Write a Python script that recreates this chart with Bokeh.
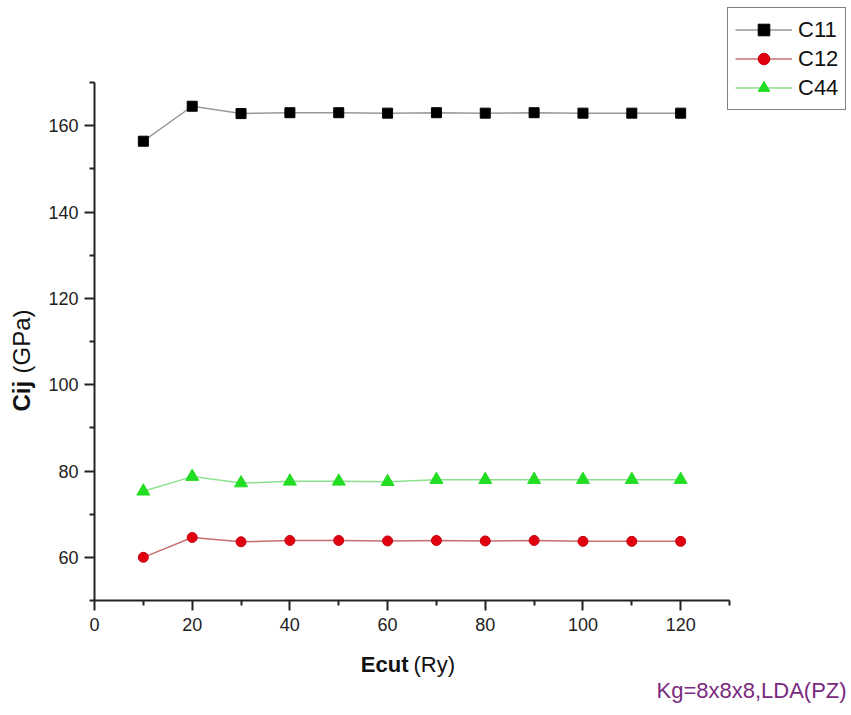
import math
from bokeh.plotting import figure
from bokeh.models import Range1d, FixedTicker, Label, Legend, LegendItem
from bokeh.embed import file_html
from bokeh.resources import INLINE

# ---- data ----
ecut = [10, 20, 30, 40, 50, 60, 70, 80, 90, 100, 110, 120]
c11 = [156.4, 164.5, 162.8, 163.0, 163.0, 162.9, 163.0, 162.9, 163.0, 162.9, 162.9, 162.9]
c12 = [60.0, 64.6, 63.6, 63.9, 63.9, 63.8, 63.9, 63.8, 63.9, 63.7, 63.7, 63.7]
c44 = [75.3, 78.7, 77.2, 77.6, 77.6, 77.5, 78.0, 78.0, 78.0, 78.0, 78.0, 78.0]
series_names = ["C11", "C12", "C44"]
x_major = [0, 20, 40, 60, 80, 100, 120]
x_minor = [10, 30, 50, 70, 90, 110, 130]
y_major = [60, 80, 100, 120, 140, 160]
y_minor = [50, 70, 90, 110, 130, 150, 170]
x_bounds = (0, 130)
y_bounds = (50, 170)
x_label_bold, x_label_rest = "Ecut", "(Ry)"
y_label_bold, y_label_rest = "Cij", "(GPa)"
note = "Kg=8x8x8,LDA(PZ)"

FONT = "Liberation Sans"
W, H = 851, 715
# axes box in page pixels
L, R, T, B = 94, 729, 82, 600
sx = (R - L) / (x_bounds[1] - x_bounds[0])
sy = (B - T) / (y_bounds[1] - y_bounds[0])
x_range = Range1d(x_bounds[0] - L / sx, x_bounds[1] + (W - R) / sx)
y_range = Range1d(y_bounds[0] - (H - B) / sy, y_bounds[1] + T / sy)

p = figure(width=W, height=H, output_backend="svg", toolbar_location=None,
           x_range=x_range, y_range=y_range,
           min_border_left=0, min_border_right=0, min_border_top=0, min_border_bottom=0)
p.outline_line_color = None
p.xgrid.visible = False
p.ygrid.visible = False
p.background_fill_color = "white"
p.border_fill_color = "white"

p.xaxis.fixed_location = y_bounds[0]
p.xaxis.bounds = x_bounds
p.yaxis.fixed_location = x_bounds[0]
p.yaxis.bounds = y_bounds

for ax, maj, mnr in ((p.xaxis[0], x_major, x_minor), (p.yaxis[0], y_major, y_minor)):
    ax.ticker = FixedTicker(ticks=maj, minor_ticks=mnr)
    ax.axis_line_width = 2
    ax.axis_line_color = "#222222"
    ax.major_tick_line_width = 2
    ax.major_tick_line_color = "#222222"
    ax.minor_tick_line_width = 2
    ax.minor_tick_line_color = "#222222"
    ax.major_tick_out = 10
    ax.major_tick_in = 0
    ax.minor_tick_out = 5
    ax.minor_tick_in = 0
    ax.major_label_text_font = FONT
    ax.major_label_text_font_size = "18px"
    ax.major_label_text_color = "#222222"
p.xaxis.major_label_standoff = 7
p.yaxis.major_label_standoff = 6

l1 = p.line(ecut, c11, line_color="#999999", line_width=1.5)
m1 = p.scatter(ecut, c11, marker="square", size=10, fill_color="black", line_color="black")
l2 = p.line(ecut, c12, line_color="#c87070", line_width=1.5)
m2 = p.scatter(ecut, c12, marker="circle", size=10, fill_color="#e00010", line_color="#c80010")
l3 = p.line(ecut, c44, line_color="#8ee08e", line_width=1.5)
m3 = p.scatter(ecut, c44, marker="triangle", size=13, fill_color="#22dd22", line_color="#22dd22")

legend = Legend(items=[LegendItem(label=series_names[0], renderers=[l1, m1]),
                       LegendItem(label=series_names[1], renderers=[l2, m2]),
                       LegendItem(label=series_names[2], renderers=[l3, m3])],
                location=(727, H - 110))
legend.border_line_color = "black"
legend.border_line_width = 1
legend.background_fill_color = "white"
legend.background_fill_alpha = 1
legend.label_text_font = FONT
legend.label_text_font_size = "22px"
legend.label_text_color = "#111111"
legend.glyph_width = 57
legend.glyph_height = 29
legend.label_height = 29
legend.label_standoff = 6
legend.spacing = 0
legend.padding = 7
legend.margin = 0
p.add_layout(legend, "center")


def px2x(px):
    return x_bounds[0] + (px - L) / sx


def py2y(py):
    return y_bounds[0] + (B - py) / sy


# axis titles (mixed weight)
p.add_layout(Label(x=px2x(408), y=py2y(664), text=x_label_bold, text_font=FONT, text_font_size="22px",
                   text_font_style="bold", text_align="right", text_baseline="middle",
                   text_color="#111111"))
p.add_layout(Label(x=px2x(413), y=py2y(664), text=x_label_rest, text_font=FONT, text_font_size="22px",
                   text_align="left", text_baseline="middle", text_color="#111111"))
p.add_layout(Label(x=px2x(21), y=py2y(411), text=y_label_bold, text_font=FONT, text_font_size="24px",
                   text_font_style="bold", text_align="left", text_baseline="middle",
                   angle=math.pi / 2, text_color="#111111"))
p.add_layout(Label(x=px2x(21), y=py2y(373), text=y_label_rest, text_font=FONT, text_font_size="24px",
                   text_align="left", text_baseline="middle",
                   angle=math.pi / 2, text_color="#111111"))
p.add_layout(Label(x=px2x(656), y=py2y(690), text=note, text_font=FONT, text_font_size="22px",
                   text_align="left", text_baseline="middle", text_color="#7a2a80"))

open("out.html", "w").write(file_html(p, INLINE))
